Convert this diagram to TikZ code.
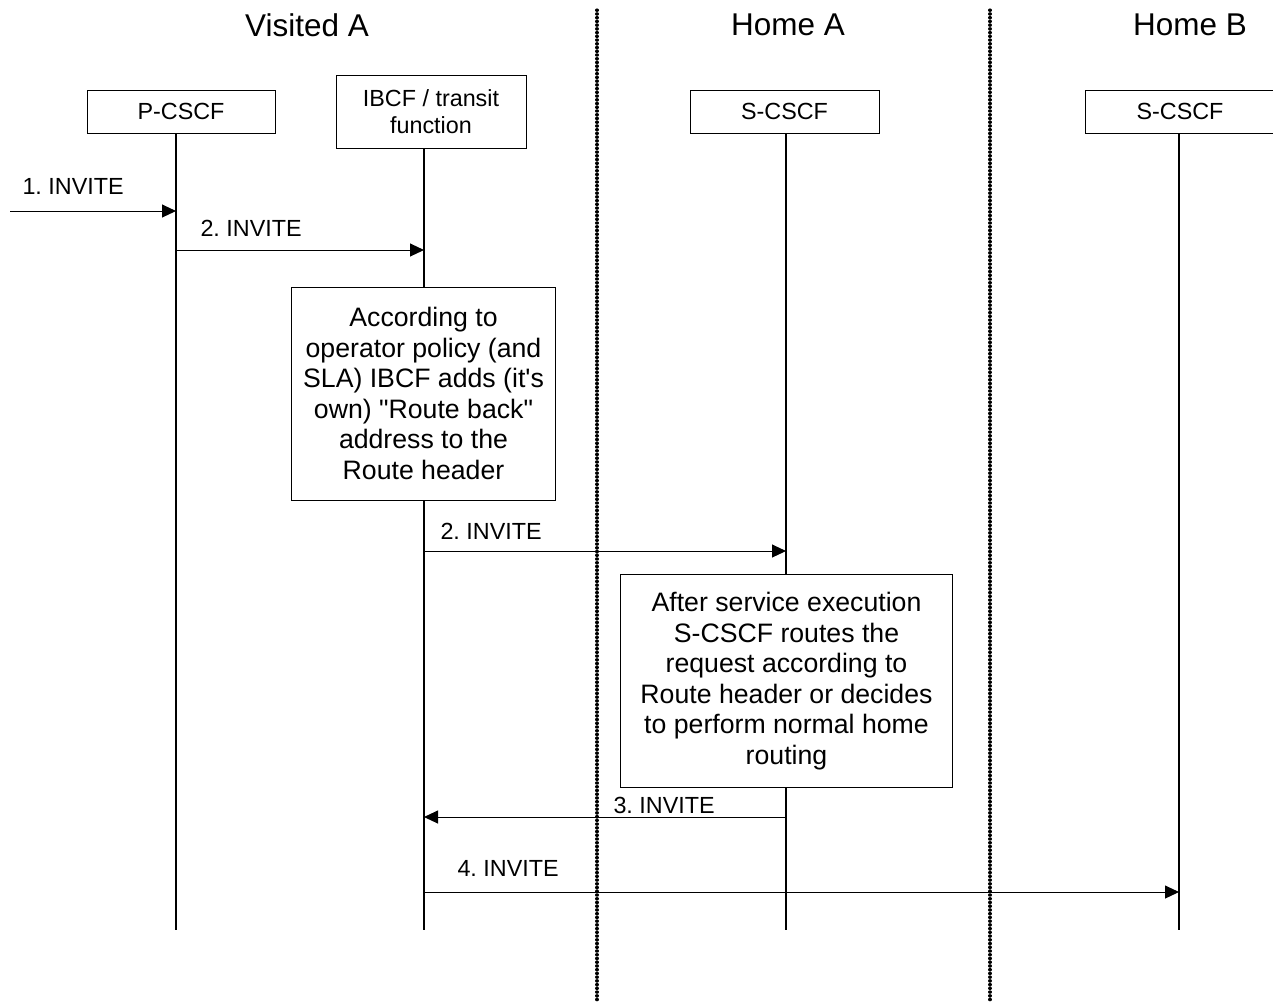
\documentclass[tikz,border=0pt]{standalone}
\usepackage{fontspec}
\setmainfont{Liberation Sans}
\usetikzlibrary{arrows.meta}

\begin{document}
\frenchspacing
\begin{tikzpicture}[x=0.75pt, y=-0.75pt, line width=0.75pt,
  entity/.style={draw, rectangle, inner sep=0pt, align=center,
    font=\fontsize{17.5}{20.25}\selectfont},
  note/.style={draw, fill=white, rectangle, inner sep=0pt, align=center,
    font=\fontsize{20}{22.9}\selectfont},
  life/.style={line width=0.9pt},
  msg/.style={-{Triangle[length=10.5pt, width=9.75pt]}, line width=0.75pt},
  lbl/.style={anchor=west, inner sep=0pt, font=\fontsize{17.5}{20}\selectfont},
  netname/.style={inner sep=0pt, font=\fontsize{23.6}{28}\selectfont},
  border/.style={line width=2.3pt, dash pattern=on 0.3pt off 2.5pt, line cap=round}]

\useasboundingbox (0,0) rectangle (1273,1001);
\clip (0,0) rectangle (1273,1001);

% network headings
\node[netname] (dva) at (307,25) {Visited A};
\node[netname] (dha) at (788,25) {Home A};
\node[netname] (dhb) at (1190,25) {Home B};

% network borders
\coordinate (b1t) at (597,10);  \coordinate (b1b) at (597,1001);
\coordinate (b2t) at (990,10);  \coordinate (b2b) at (990,1001);
\draw[border] (b1t) -- (b1b);
\draw[border] (b2t) -- (b2b);

% entities
\node[entity, minimum width=141pt,   minimum height=32.25pt] (pc) at (181,111.5) {P-CSCF};
\node[entity, minimum width=142.5pt, minimum height=54.75pt] (ib) at (431,111.5) {IBCF / transit\\function};
\node[entity, minimum width=141.75pt,minimum height=32.25pt] (sa) at (784.5,111.5) {S-CSCF};
\node[entity, minimum width=142.5pt, minimum height=32.25pt] (sb) at (1180,111.5) {S-CSCF};

% lifeline ends
\coordinate (pcb) at (176,930);
\coordinate (ibb) at (424,930);
\coordinate (sab) at (786,930);
\coordinate (sbb) at (1179,930);

\draw[life] (pc.south -| pcb) -- (pcb);
\draw[life] (ib.south -| ibb) -- (ibb);
\draw[life] (sa.south -| sab) -- (sab);
\draw[life] (sb.south -| sbb) -- (sbb);

% message rows
\coordinate (r1) at (0,211);
\coordinate (r2) at (0,250);
\coordinate (r3) at (0,551);
\coordinate (r4) at (0,817);
\coordinate (r5) at (0,892);
\coordinate (src) at (10,211);

\draw[msg] (src) -- (pcb |- r1);
\draw[msg] (pcb |- r2) -- (ibb |- r2);
\draw[msg] (ibb |- r3) -- (sab |- r3);
\draw[msg] (sab |- r4) -- (ibb |- r4);
\draw[msg] (ibb |- r5) -- (sbb |- r5);

\node[lbl] (l1) at (22,186)  {1. INVITE};
\node[lbl] (l2) at (200,228) {2. INVITE};
\node[lbl] (l3) at (440,531) {2. INVITE};
\node[lbl] (l4) at (613,805) {3. INVITE};
\node[lbl] (l5) at (457,868) {4. INVITE};

% processing notes
\node[note, minimum width=198pt, minimum height=159.75pt] (n1) at (423.5,393.5)
  {According to\\operator policy (and\\SLA) IBCF adds (it\textquotesingle s\\own) \textquotedbl Route back\textquotedbl\\address to the\\Route header};
\node[note, minimum width=249pt, minimum height=159.75pt] (n2) at (786.5,681)
  {After service execution\\S-CSCF routes the\\request according to\\Route header or decides\\to perform normal home\\routing};

\end{tikzpicture}
\end{document}
